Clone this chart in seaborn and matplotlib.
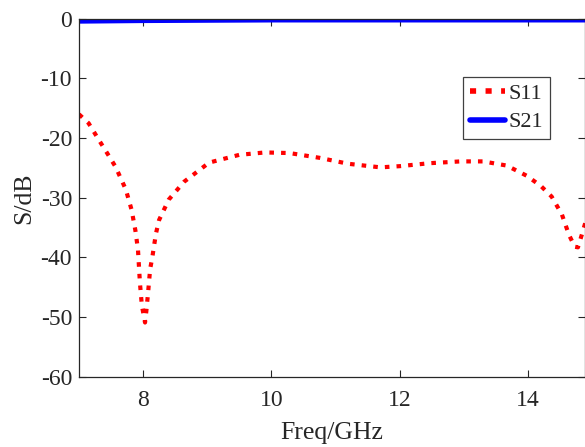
import numpy as np
import pandas as pd
import seaborn as sns
import matplotlib.pyplot as plt

# valores
freq_s11 = [7.0, 7.15, 7.31, 7.45, 7.57, 7.73, 7.82, 7.88, 7.92, 7.95, 7.98, 8.03,
            8.05, 8.08, 8.11, 8.14, 8.2, 8.25, 8.4, 8.64, 9.03, 9.5, 9.9, 10.28,
            10.75, 11.2, 11.7, 12.0, 12.47, 12.95, 13.3, 13.67, 13.98, 14.2, 14.37,
            14.53, 14.64, 14.73, 14.78, 14.84, 14.9]
s11 = [-16.0, -17.5, -20.3, -22.7, -24.8, -28.6, -32.0, -35.5, -38.7, -44.2, -48.0, -50.9,
       -49.0, -45.6, -41.9, -40.2, -36.0, -33.7, -30.3, -27.3, -24.1, -22.8, -22.4, -22.5,
       -23.3, -24.3, -24.9, -24.7, -24.2, -23.9, -23.9, -24.6, -26.3, -28.0, -29.8,
       -32.8, -36.2, -38.2, -38.3, -36.2, -34.0]
freq_s21 = [7.0, 8.0, 9.0, 10.0, 11.0, 12.0, 13.0, 14.0, 14.9]
s21 = [-0.45, -0.35, -0.3, -0.25, -0.25, -0.25, -0.25, -0.25, -0.25]

df11 = pd.DataFrame({'freq': freq_s11, 'db': s11})
df21 = pd.DataFrame({'freq': freq_s21, 'db': s21})

sns.set_style("ticks")
plt.rcParams['font.family'] = ['Liberation Serif', 'DejaVu Serif']
plt.rcParams['axes.unicode_minus'] = False
plt.rcParams['xtick.direction'] = 'in'
plt.rcParams['ytick.direction'] = 'in'

fig = plt.figure(figsize=(5.85, 4.47), dpi=100)
ax = fig.add_axes([0.135, 0.157, 0.865, 0.801])

sns.lineplot(data=df11, x='freq', y='db', ax=ax, color='#ff0000', lw=3,
             linestyle=(0, (1.1, 1.7)), label='S11')
sns.lineplot(data=df21, x='freq', y='db', ax=ax, color='#0000ff', lw=3.2,
             label='S21')

ax.set_xlim(7, 14.89)
ax.set_ylim(-60, 0)
ax.set_xticks([8, 10, 12, 14])
ax.set_yticks(range(-60, 1, 10))
ax.tick_params(axis='both', labelsize=17, length=5, width=0.8, color='#262626',
               labelcolor='#262626', top=True, right=True)
ax.tick_params(axis='x', pad=9.5)
ax.tick_params(axis='y', pad=5)
ax.set_xlabel('Freq/GHz', fontsize=18.5, labelpad=8, color='#262626')
ax.set_ylabel('S/dB', fontsize=18.5, labelpad=4, color='#262626')
for s in ax.spines.values():
    s.set_color('#262626')
    s.set_linewidth(0.9)

leg = ax.legend(loc='upper right', bbox_to_anchor=(0.931, 0.838), fontsize=16,
                frameon=True, fancybox=False, edgecolor='#404040', framealpha=1,
                handlelength=1.6, handletextpad=0.15, borderpad=0.3,
                labelspacing=0.35, borderaxespad=0)
leg.get_frame().set_linewidth(0.9)
for ln in leg.get_lines():
    ln.set_linewidth(4)

plt.savefig('out.png', dpi=100)
